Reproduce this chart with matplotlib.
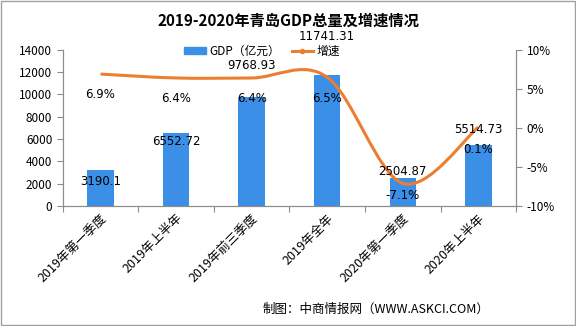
# 2019-2020 Qingdao GDP and growth rate
import numpy as np
import matplotlib.pyplot as plt
from matplotlib.path import Path
from matplotlib.patches import PathPatch, Rectangle
from matplotlib.lines import Line2D

plt.rcParams['font.family'] = ['Noto Sans CJK SC', 'DejaVu Sans']

# Data
categories = ['2019年第一季度', '2019年上半年', '2019年前三季度', '2019年全年', '2020年第一季度', '2020年上半年']
gdp = [3190.1, 6552.72, 9768.93, 11741.31, 2504.87, 5514.73]
growth = [6.9, 6.4, 6.4, 6.5, -7.1, 0.1]
gdp_labels = ['3190.1', '6552.72', '9768.93', '11741.31', '2504.87', '5514.73']
growth_labels = ['6.9%', '6.4%', '6.4%', '6.5%', '-7.1%', '0.1%']

bar_color = '#3C8FE6'
line_color = '#ED7D31'
axis_color = '#8c8c8c'

fig = plt.figure(figsize=(5.76, 3.26), dpi=100)
ax = fig.add_axes([0.109, 0.368, 0.787, 0.479])
ax2 = ax.twinx()

x = np.arange(len(categories))
ax.bar(x, gdp, width=0.35, color=bar_color, zorder=2)
ax.set_xlim(-0.5, len(categories) - 0.5)
ax.set_ylim(0, 14000)
ax.set_yticks(range(0, 14001, 2000))
ax2.set_ylim(-10, 10)
ax2.set_yticks([-10, -5, 0, 5, 10])
ax2.set_yticklabels(['-10%', '-5%', '0%', '5%', '10%'])

# smooth line through the points (Catmull-Rom as cubic bezier)
pts = np.column_stack([x, growth]).astype(float)
verts = [tuple(pts[0])]
codes = [Path.MOVETO]
for i in range(len(pts) - 1):
    p0 = pts[i - 1] if i > 0 else pts[i]
    p1, p2 = pts[i], pts[i + 1]
    p3 = pts[i + 2] if i + 2 < len(pts) else pts[i + 1]
    c1 = p1 + (p2 - p0) / 6
    c2 = p2 - (p3 - p1) / 6
    verts += [tuple(c1), tuple(c2), tuple(p2)]
    codes += [Path.CURVE4] * 3
ax2.add_patch(PathPatch(Path(verts, codes), fill=False, edgecolor=line_color, lw=2.2, zorder=3))

# labels (all drawn on the top axes so they sit over bars and line)
bar_offsets = [-8, -6, 23, 28, 5, 11]
for xi, v, lab, off in zip(x, gdp, gdp_labels, bar_offsets):
    ax2.annotate(lab, (xi, v), xycoords=ax.transData, xytext=(0, off), textcoords='offset points',
                 ha='center', va='center', fontsize=8.5, family='DejaVu Sans', zorder=5)
growth_offsets = [-15, -15, -15, -15, -9, -16]
for xi, v, lab, off in zip(x, growth, growth_labels, growth_offsets):
    ax2.annotate(lab, (xi, v), xytext=(0, off), textcoords='offset points',
                 ha='center', va='center', fontsize=8.5, family='DejaVu Sans', zorder=5)

# axes styling
ax.set_xticks(np.arange(-0.5, len(categories), 1), minor=False)
ax.set_xticklabels([])
ax.set_xticks(x, minor=True)
ax.set_xticklabels(categories, minor=True, rotation=45, ha='right', rotation_mode='anchor', fontsize=9)
ax.tick_params(axis='x', which='minor', length=0, pad=4)
ax.tick_params(axis='x', which='major', length=4, color=axis_color)
ax.tick_params(axis='y', length=4, color=axis_color, labelsize=8.5)
ax2.tick_params(axis='y', length=4, color=axis_color, labelsize=8.5)
for a in (ax, ax2):
    a.spines['top'].set_visible(False)
    for s in ('left', 'right', 'bottom'):
        a.spines[s].set_color(axis_color)

# legend
handles = [Rectangle((0, 0), 1, 1, color=bar_color),
           Line2D([0], [0], color=line_color, lw=2.2, marker='o', markersize=3)]
fig.legend(handles, ['GDP（亿元）', '增速'], loc='center', bbox_to_anchor=(0.455, 0.842),
           ncol=2, frameon=False, fontsize=8.5, handlelength=1.8, handleheight=0.5,
           handletextpad=0.3, columnspacing=1.0, borderpad=0.1)

fig.text(0.5, 0.935, '2019-2020年青岛GDP总量及增速情况', ha='center', va='center',
         fontsize=11, fontweight='bold')
fig.text(0.85, 0.05, '制图：中商情报网（WWW.ASKCI.COM）', ha='right', va='center', fontsize=9)

fig.patches.append(Rectangle((0.002, 0.003), 0.996, 0.994, transform=fig.transFigure,
                             fill=False, edgecolor='#a0a0a0', lw=1))

plt.savefig('out.png', dpi=100)
